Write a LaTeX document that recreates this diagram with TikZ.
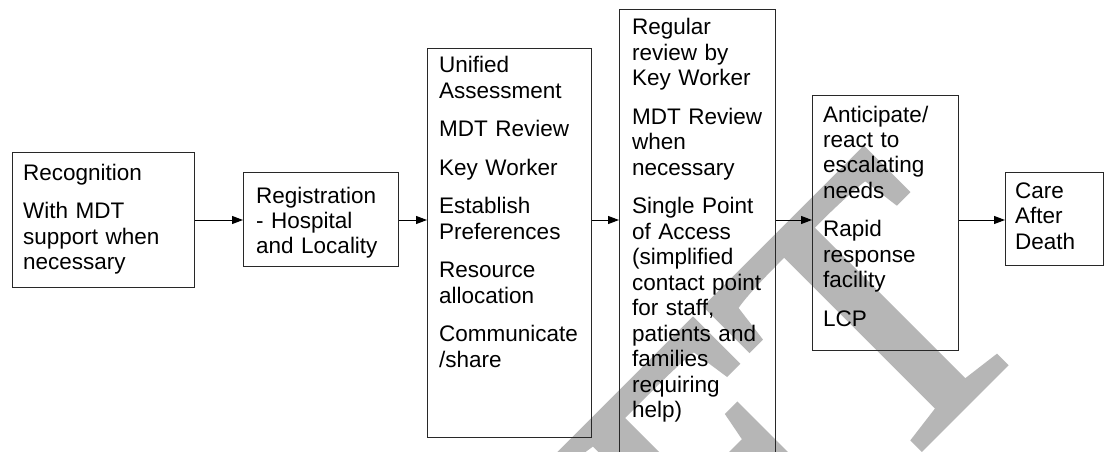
\documentclass[tikz,border=0pt]{standalone}
\usepackage{fontspec}
\setmainfont{Liberation Sans}
\newfontfamily\stampfont{Liberation Serif}[FakeBold=1.8]
\usetikzlibrary{arrows.meta}
\definecolor{stampgray}{RGB}{182,182,182}
\definecolor{edgegray}{RGB}{40,40,40}
\begin{document}
\begin{tikzpicture}[x=1pt,y=-1pt,
  stagebox/.style={draw=edgegray, line width=1.1pt, inner sep=0pt, anchor=north west},
  stagetext/.style={anchor=base west, inner sep=0pt, text width=170pt, align=left,
    font=\fontsize{22.5}{25.5}\selectfont},
  flowarrow/.style={draw=black, line width=1pt, -{Triangle[length=11pt,width=8pt]}},
  stamp/.style={rotate=45, inner sep=0pt, outer sep=0pt, text=stampgray,
    font=\stampfont\fontsize{383}{383}\selectfont}]

% page
\fill[white] (0,0) rectangle (1104,452);
\useasboundingbox (0,0) rectangle (1104,452);
\coordinate (flow) at (0,220);

\begin{scope}
  \clip (0,0) rectangle (1104,452);
  % watermark behind the chart: last letter placed on its stem, the rest before it
  \node[stamp, anchor=base] (stampT) at (963,406) {T};
  \node[stamp, anchor=base east] (stampRest) at (stampT.base west) {DRAF};
  % tall stage box running off the bottom edge
  \node[stagebox, minimum width=156pt, minimum height=470pt] (b4) at (619,9) {};
\end{scope}

% stage boxes
\node[stagebox, minimum width=182pt, minimum height=135pt] (b1) at (12,152) {};
\node[stagebox, minimum width=155pt, minimum height=94pt]  (b2) at (243,172) {};
\node[stagebox, minimum width=164pt, minimum height=389pt] (b3) at (427,48) {};
\node[stagebox, minimum width=146pt, minimum height=255pt] (b5) at (812,95) {};
\node[stagebox, minimum width=98pt,  minimum height=93pt]  (b6) at (1005,172) {};

% stage texts
\node[stagetext] (t1) at (23,180) {Recognition\\[13pt]
  With MDT\\support when\\necessary};
\node[stagetext] (t2) at (256,203) {Registration\\- Hospital\\and Locality};
\node[stagetext] (t3) at (439,73) {Unified\\Assessment\\[13pt]
  MDT Review\\[13pt]
  Key Worker\\[13pt]
  Establish\\Preferences\\[13pt]
  Resource\\allocation\\[13pt]
  Communicate\\/share};
\node[stagetext] (t4) at (632,35) {Regular\\review by\\Key Worker\\[13pt]
  MDT Review\\when\\necessary\\[13pt]
  Single Point\\of Access\\(simplified\\contact point\\for staff,\\patients and\\families\\requiring\\help)};
\node[stagetext] (t5) at (823,122) {Anticipate/\\react to\\escalating\\needs\\[13pt]
  Rapid\\response\\facility\\[13pt]
  LCP};
\node[stagetext] (t6) at (1015,198) {Care\\After\\Death};

% flow between stages
\draw[flowarrow] (b1.east |- flow) -- (b2.west |- flow);
\draw[flowarrow] (b2.east |- flow) -- (b3.west |- flow);
\draw[flowarrow] (b3.east |- flow) -- (b4.west |- flow);
\draw[flowarrow] (b4.east |- flow) -- (b5.west |- flow);
\draw[flowarrow] (b5.east |- flow) -- (b6.west |- flow);
\end{tikzpicture}
\end{document}
